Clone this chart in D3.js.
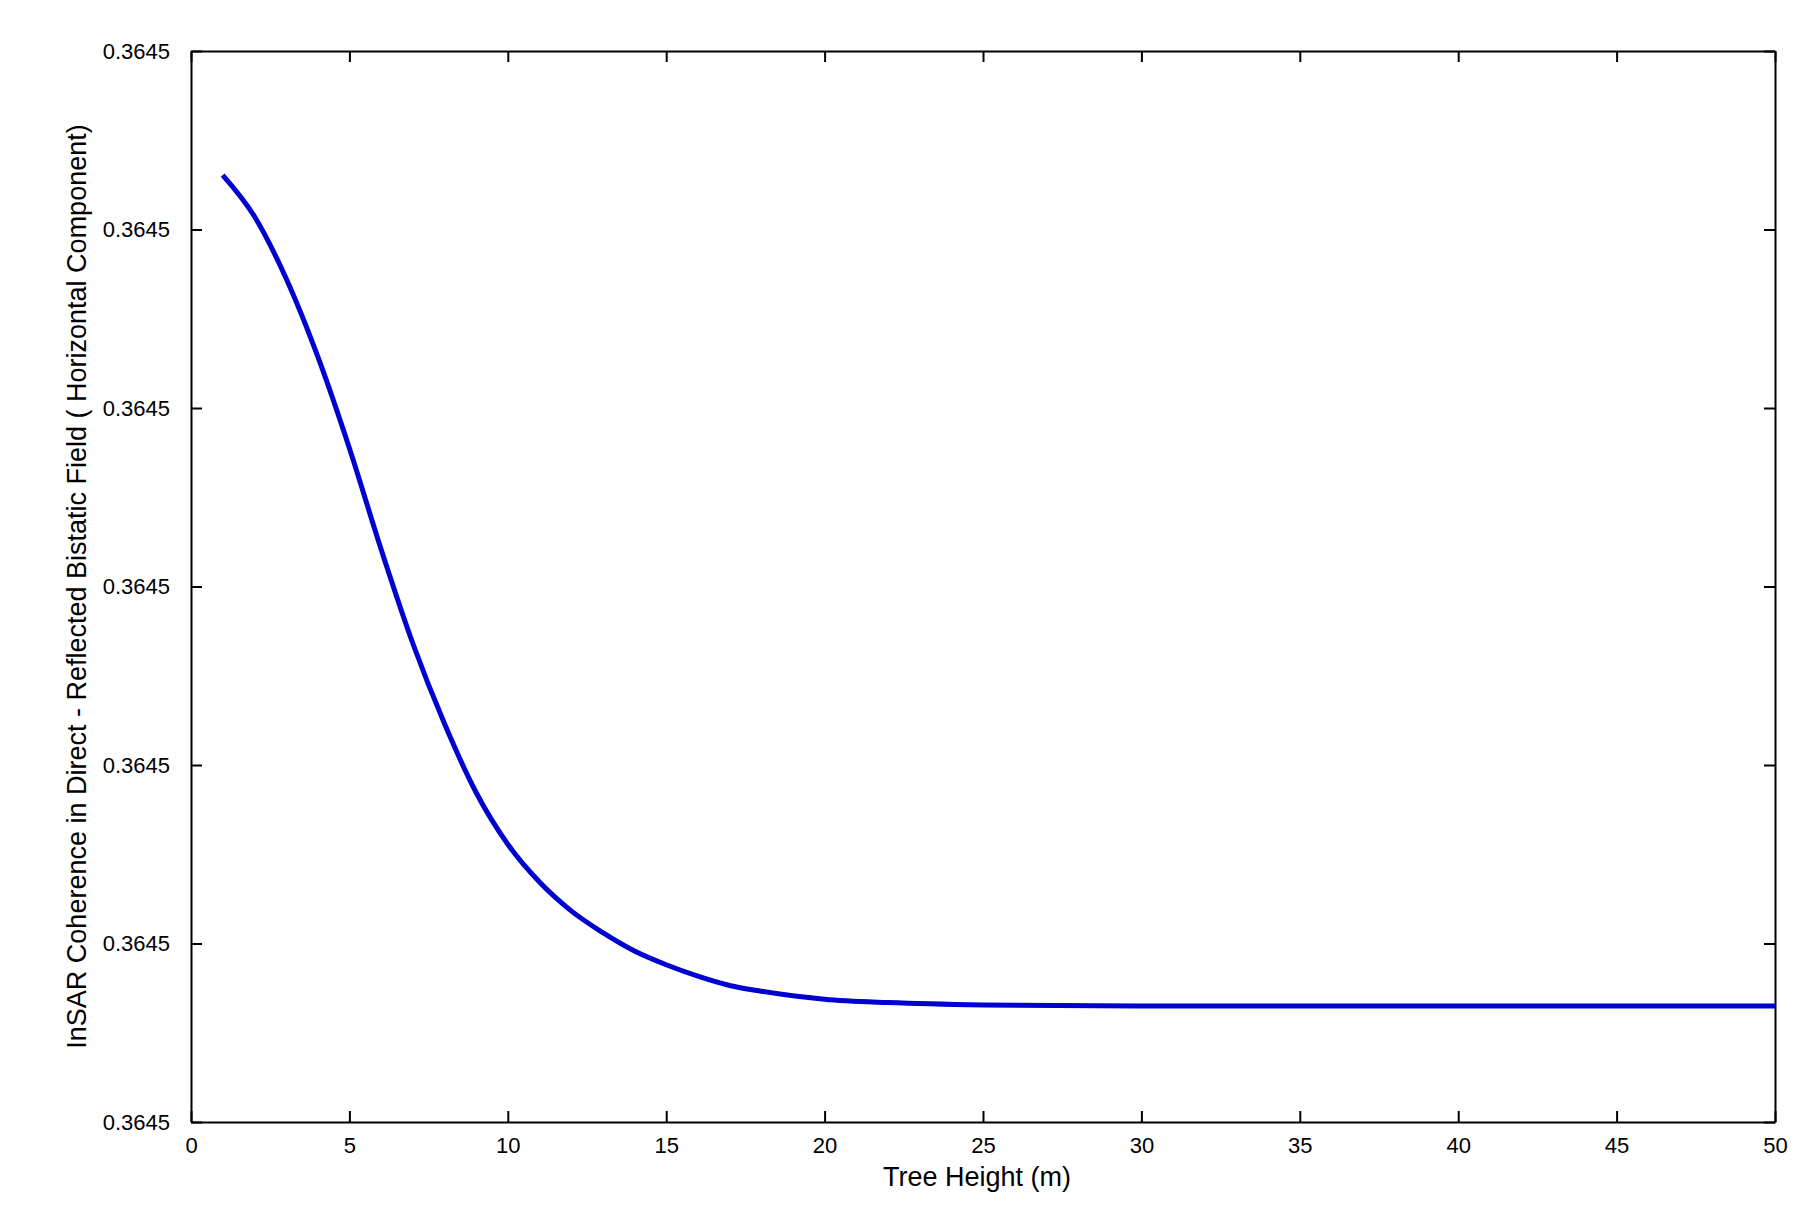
<!DOCTYPE html>
<html><head><meta charset="utf-8">
<script src="https://cdn.jsdelivr.net/npm/d3@7"></script>
<style>body{margin:0;background:#fff}text{font-family:"Liberation Sans",Arial,sans-serif}</style>
</head><body><div class="canvas"></div>
<script>
// tree height (m) and coherence (in tick-step units, every tick labelled 0.3645)
const heights = [1,2,3,4,5,6,7,8,9,10,11,12,13,14,15,16,17,18,19,20,22,25,30,35,40,45,50]
const coherence = [5.305,5.074,4.727,4.289,3.775,3.209,2.682,2.232,1.846,1.556,1.344,1.183,1.061,0.958,0.881,0.817,0.765,0.733,0.707,0.688,0.669,0.656,0.650,0.650,0.650,0.650,0.650]
const xTicks = [0,5,10,15,20,25,30,35,40,45,50]
const yTicks = [0,1,2,3,4,5,6]
const yTickLabel = "0.3645"

const m = { left: 191, top: 51, right: 1775, bottom: 1122 }
const svg = d3.select(".canvas").append("svg").attr("width", 1801).attr("height", 1216)

const x = d3.scaleLinear().domain([0, 50]).range([m.left, m.right])
const y = d3.scaleLinear().domain([0, 6]).range([m.bottom, m.top])
const tl = 11

const ax = (g) => g.selectAll("path,line").attr("stroke", "#000").attr("stroke-width", 2)
svg.append("g").attr("transform", `translate(0,${m.bottom})`)
    .call(d3.axisBottom(x).tickValues(xTicks).tickSizeInner(-tl).tickSizeOuter(0).tickPadding(tl + 4))
    .call(ax).call(g => g.selectAll("text").attr("font-size", 22).attr("fill", "#000"))
svg.append("g").attr("transform", `translate(0,${m.top})`)
    .call(d3.axisTop(x).tickValues(xTicks).tickSizeInner(-tl).tickSizeOuter(0).tickFormat(""))
    .call(ax)
svg.append("g").attr("transform", `translate(${m.left},0)`)
    .call(d3.axisLeft(y).tickValues(yTicks).tickSizeInner(-tl).tickSizeOuter(0).tickPadding(tl + 10).tickFormat(() => yTickLabel))
    .call(ax).call(g => g.selectAll("text").attr("font-size", 22).attr("fill", "#000"))
svg.append("g").attr("transform", `translate(${m.right},0)`)
    .call(d3.axisRight(y).tickValues(yTicks).tickSizeInner(-tl).tickSizeOuter(0).tickFormat(""))
    .call(ax)

svg.append("path")
    .datum(heights.map((h, i) => [h, coherence[i]]))
    .attr("fill", "none").attr("stroke", "#0000d0").attr("stroke-width", 5)
    .attr("d", d3.line().x(d => x(d[0])).y(d => y(d[1])).curve(d3.curveMonotoneX))

svg.append("text").attr("x", 977).attr("y", 1186)
    .attr("text-anchor", "middle").attr("font-size", 27).text("Tree Height (m)")
svg.append("text").attr("transform", `translate(86,${(m.top + m.bottom) / 2}) rotate(-90)`)
    .attr("text-anchor", "middle").attr("font-size", 27)
    .text("InSAR Coherence in Direct - Reflected Bistatic Field ( Horizontal Component)")
</script></body></html>
